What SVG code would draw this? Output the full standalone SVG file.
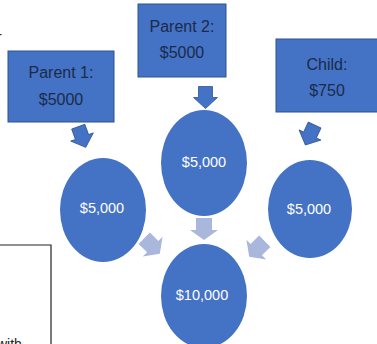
<svg xmlns="http://www.w3.org/2000/svg" width="377" height="344" viewBox="0 0 377 344">
  <defs>
    <style>
      .box { fill: #4472C4; stroke: #2F528F; stroke-width: 1; }
      .boxtxt { font-family: "Liberation Sans", Arial, sans-serif; font-size: 16px; fill: #1B2B4B; text-anchor: middle; }
      .circ { fill: #4472C4; }
      .circtxt { font-family: "Liberation Sans", Arial, sans-serif; font-size: 14.5px; fill: #FFFFFF; text-anchor: middle; }
      .darr { fill: #4472C4; stroke: #2F5597; stroke-width: 0.8; }
      .larr { fill: #A9B7DD; }
      .plain { font-family: "Liberation Sans", Arial, sans-serif; font-size: 14px; fill: #222; }
    </style>
    <path id="dArrow" d="M-7,-11 H7 V0 H12 L0,11 L-12,0 H-7 Z"/>
    <path id="lArrow" d="M-8,-11 H8 V1 H14 L0,11 L-14,1 H-8 Z"/>
  </defs>
  <rect width="377" height="344" fill="#FFFFFF"/>

  <text class="plain" x="-3" y="42">r</text>

  <g id="textbox">
    <polyline points="-1,245 51,245 51,346" fill="none" stroke="#222" stroke-width="1.2"/>
    <text class="plain" x="-3" y="349">with</text>
  </g>

  <g id="parent1">
    <rect class="box" x="8" y="51" width="106" height="71"/>
    <text class="boxtxt" x="61" y="78">Parent 1:</text>
    <text class="boxtxt" x="61" y="105">$5000</text>
  </g>
  <g id="parent2">
    <rect class="box" x="138" y="4" width="88" height="73"/>
    <text class="boxtxt" x="182" y="32">Parent 2:</text>
    <text class="boxtxt" x="182" y="58">$5000</text>
  </g>
  <g id="child">
    <rect class="box" x="276" y="39" width="104" height="73"/>
    <text class="boxtxt" x="327" y="70">Child:</text>
    <text class="boxtxt" x="327" y="96">$750</text>
  </g>

  <g id="circle-left">
    <ellipse class="circ" cx="103" cy="210" rx="43" ry="52"/>
    <text class="circtxt" x="102" y="213">$5,000</text>
  </g>
  <g id="circle-center">
    <ellipse class="circ" cx="204" cy="163" rx="43" ry="53"/>
    <text class="circtxt" x="204" y="167">$5,000</text>
  </g>
  <g id="circle-right">
    <ellipse class="circ" cx="310" cy="209" rx="42" ry="49"/>
    <text class="circtxt" x="309" y="214">$5,000</text>
  </g>
  <g id="circle-bottom">
    <ellipse class="circ" cx="204" cy="296" rx="43" ry="52"/>
    <text class="circtxt" x="202" y="300">$10,000</text>
  </g>

  <g id="connectors">
    <use href="#dArrow" class="darr" transform="translate(82,137) rotate(-20)"/>
    <use href="#dArrow" class="darr" transform="translate(205.5,97.5)"/>
    <use href="#dArrow" class="darr" transform="translate(310,135) rotate(25)"/>
    <use href="#lArrow" class="larr" transform="translate(152,246) rotate(-45)"/>
    <use href="#lArrow" class="larr" transform="translate(204,229)"/>
    <use href="#lArrow" class="larr" transform="translate(257,249) rotate(45)"/>
  </g>
</svg>
